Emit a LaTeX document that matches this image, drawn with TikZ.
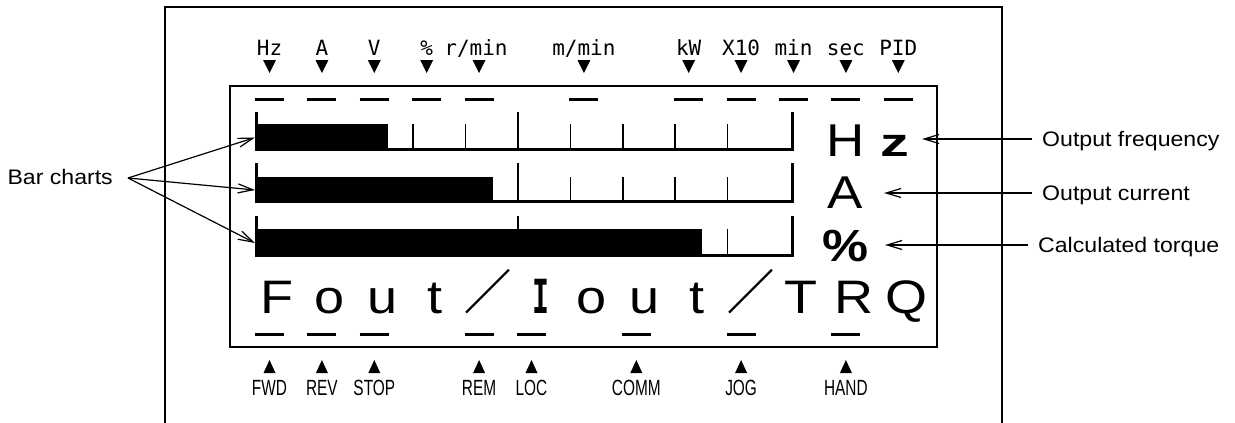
\documentclass[tikz,border=0pt]{standalone}
\usepackage{fontspec}
\setmainfont{Liberation Sans}
\newfontfamily\monofont{DejaVu Sans Mono}
\newfontfamily\narrowfont[FakeStretch=0.7]{Liberation Sans}
\newfontfamily\widefont[FakeStretch=1.1]{Liberation Sans}
\newfontfamily\bigfont[FakeStretch=1.15]{Liberation Sans}
\newfontfamily\cjkfont{Noto Sans CJK JP}
\usetikzlibrary{arrows.meta}
\begin{document}
\begin{tikzpicture}[x=1pt,y=-1pt,
  outer/.style={line width=1.5pt},
  panel/.style={line width=2pt},
  seg/.style={line width=3pt},
  toplbl/.style={font=\monofont\fontsize{21}{24}\selectfont, inner sep=0pt, anchor=base},
  botlbl/.style={font=\narrowfont\fontsize{22}{24}\selectfont, inner sep=0pt, anchor=base},
  bigch/.style={font=\bigfont\fontsize{47}{50}\selectfont, inner sep=0pt, anchor=base},
  slashch/.style={font=\cjkfont\bfseries\fontsize{47}{50}\selectfont, inner sep=0pt, anchor=base},
  unitch/.style={font=\bigfont\fontsize{46}{50}\selectfont, inner sep=0pt, anchor=base},
  callout/.style={font=\widefont\fontsize{21}{24}\selectfont, inner xsep=10pt, inner ysep=0pt, anchor=base west},
  ptr/.style={line width=1.2pt, -{Straight Barb[length=15pt,width=9pt]}},
  smalltick/.style={line width=1.5pt},
  bigtick/.style={line width=2pt},
  endtick/.style={line width=3pt},
]
\useasboundingbox (0,0) rectangle (1235,423);
% outer frame and panel
\draw[outer] (165,423) -- (165,7) -- (1002,7) -- (1002,423);
\draw[panel] (230,86) rectangle (937,347);
% top segment dashes
\foreach \k in {0,1,2,3,4,6,8,9,10,11,12} {
  \pgfmathsetmacro{\xx}{269.5+52.4*\k}
  \draw[seg] (\xx-14.5,99) -- (\xx+14.5,99);
  \fill (\xx-6.5,60) -- (\xx+6.5,60) -- (\xx,73) -- cycle;
}
% bottom segment dashes
\foreach \k in {0,1,2,4,5,7,9,11} {
  \pgfmathsetmacro{\xx}{269.5+52.4*\k}
  \draw[seg] (\xx-14.5,334) -- (\xx+14.5,334);
  \fill (\xx-6,373) -- (\xx+6,373) -- (\xx,360) -- cycle;
}
% top labels
\node[toplbl] (lHz)  at (269.5,55) {Hz};
\node[toplbl] (lA)   at (321.9,55) {A};
\node[toplbl] (lV)   at (374.3,55) {V};
\node[toplbl] (lPc)  at (426.7,55) {\%};
\node[toplbl] (lrm)  at (476,55) {r/min};
\node[toplbl] (lmm)  at (583.9,55) {m/min};
\node[toplbl] (lkW)  at (688.7,55) {kW};
\node[toplbl] (lX)   at (741.1,55) {X10};
\node[toplbl] (lmin) at (793.5,55) {min};
\node[toplbl] (lsec) at (845.9,55) {sec};
\node[toplbl] (lPID) at (898.3,55) {PID};
% bottom labels
\node[botlbl] (bFWD)  at (269.5,395) {FWD};
\node[botlbl] (bREV)  at (321.9,395) {REV};
\node[botlbl] (bSTOP) at (374.3,395) {STOP};
\node[botlbl] (bREM)  at (479.1,395) {REM};
\node[botlbl] (bLOC)  at (531.5,395) {LOC};
\node[botlbl] (bCOMM) at (636.3,395) {COMM};
\node[botlbl] (bJOG)  at (741.1,395) {JOG};
\node[botlbl] (bHAND) at (845.9,395) {HAND};
% bar charts
\foreach \yt/\yf/\yb/\fr [count=\r] in {112/124/151/388, 163/177/203/493, 216/229/257/702} {
  \foreach \k in {1,2,3,4,6,7,8,9} {
    \draw[smalltick] ({256+52.4*\k},\yf) -- ({256+52.4*\k},\yb);
  }
  \draw[bigtick] (518,\yt) -- (518,\yb);
  \fill (255,\yf) rectangle (\fr,\yb);
  \draw[endtick] (256.5,\yt) -- (256.5,\yb);
  \draw[endtick] (792,\yt) -- (792,\yb-1.5) -- (255,\yb-1.5);
  \coordinate (bar\r) at (255,{(\yf+\yb)/2});
}
% unit characters
\node[unitch] (uH) at (845.5,156) {H};
\node[unitch, font=\bigfont\bfseries\fontsize{40}{44}\selectfont] (uz) at (895,156) {\scalebox{1.25}[1]{z}};
\node[unitch] (uA) at (845.5,208) {A};
\node[unitch, font=\bigfont\bfseries\fontsize{45}{48}\selectfont] (uP) at (845,261) {\%};
% big text line
\node[bigch] (c1) at (277.5,313) {F};
\node[bigch] (c2) at (329.9,313) {o};
\node[bigch] (c3) at (382.3,313) {u};
\node[bigch] (c4) at (434.7,313) {t};
\node[slashch] (c5) at (488,309) {／};
\node[bigch, font=\monofont\bfseries\fontsize{47}{50}\selectfont] (c6) at (541,313) {\scalebox{0.6}[1]{I}};
\node[bigch] (c7) at (591.9,313) {o};
\node[bigch] (c8) at (644.3,313) {u};
\node[bigch] (c9) at (696.7,313) {t};
\node[slashch] (c10) at (750.5,309) {／};
\node[bigch] (c11) at (801.5,313) {T};
\node[bigch] (c12) at (853.9,313) {R};
\node[bigch] (c13) at (906.3,313) {Q};
% callouts right
\node[callout] (cFreq) at (1032,146) {Output frequency};
\node[callout] (cCur)  at (1032,200) {Output current};
\node[callout] (cTrq)  at (1028,252) {Calculated torque};
\coordinate (tFreq) at (922,139);
\coordinate (tCur)  at (884,193);
\coordinate (tTrq)  at (885,245);
\draw[ptr] (cFreq.west |- tFreq) -- (tFreq);
\draw[ptr] (cCur.west |- tCur) -- (tCur);
\draw[ptr] (cTrq.west |- tTrq) -- (tTrq);
% bar charts callout
\node[font=\widefont\fontsize{21}{24}\selectfont, inner sep=0pt, anchor=base east] (bc) at (113,184) {Bar charts};
\coordinate (bcfork) at (128,178);
\draw[ptr] (bcfork) -- (bar1);
\draw[ptr] (bcfork) -- (bar2);
\draw[ptr] (bcfork) -- (bar3);
\end{tikzpicture}
\end{document}
